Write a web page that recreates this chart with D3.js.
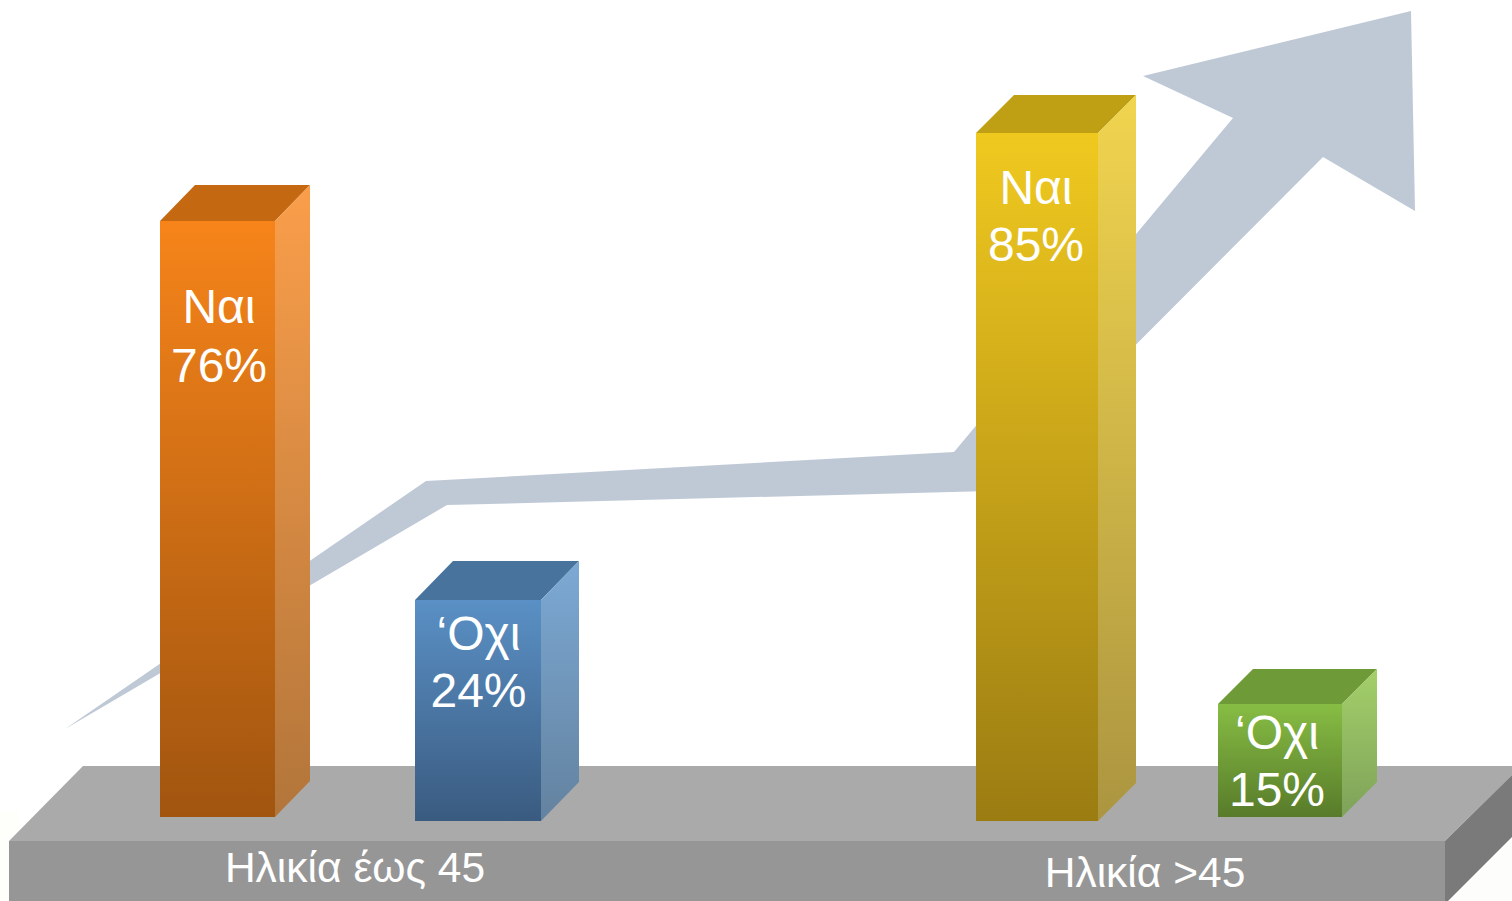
<!DOCTYPE html>
<html><head><meta charset="utf-8">
<script src="https://cdnjs.cloudflare.com/ajax/libs/d3/7.8.5/d3.min.js"></script>
<style>html,body{margin:0;padding:0;background:#fff;overflow:hidden}svg{display:block}text{font-family:"Liberation Sans",Arial,sans-serif;fill:#fff}</style>
</head><body><svg id="c" width="1512" height="901"></svg>
<script>
// Data
const categories = ["yes45","no45","yesOver","noOver"];
const answers = ["Ναι","‘Οχι","Ναι","‘Οχι"];
const values = [76,24,85,15];
const groupLabels = ["Ηλικία έως 45","Ηλικία >45"];

// Styles
const frontTop = ["#f6841a","#5a90c5","#f0c91f","#87bd44"];
const frontBottom = ["#a1550f","#3a5b80","#9b7c12","#587b2a"];
const sideTop = ["#fa9e4a","#7ca9d4","#f1d44e","#a4d06a"];
const sideBottom = ["#b2753a","#63829f","#ab9540","#7ea259"];
const topFace = ["#c56812","#47739d","#bfa015","#6f9a38"];

// Layout (scales: value to height, category to placement)
const h = d3.scaleLinear().domain([0,15,24,76,85]).range([0,113,221,596,688]);
const left = d3.scaleOrdinal(categories,[160,415,976,1218]);
const width = d3.scaleOrdinal(categories,[115,126,122,124]);
const depthX = d3.scaleOrdinal(categories,[35,38,38,35]);
const depthY = d3.scaleOrdinal(categories,[36,39,38,35]);
const base = d3.scaleOrdinal(categories,[817,821,821,817]);
const labelCx = d3.scaleOrdinal(categories,[219,478.5,1036,1277]);
const labelDy = d3.scaleOrdinal(categories,[102,50,71,45]);
const labelGap = d3.scaleOrdinal(categories,[59,57,57,57]);

const svg = d3.select("#c"), defs = svg.append("defs");
const line = d3.line();
const poly = (pts,fill)=>svg.append("path").attr("d",line(pts)+"Z").attr("fill",fill);
const grad = (id,a,b)=>{const g=defs.append("linearGradient").attr("id",id).attr("x1",0).attr("x2",0).attr("y1",0).attr("y2",1);
  g.append("stop").attr("offset",0).attr("stop-color",a);g.append("stop").attr("offset",1).attr("stop-color",b);return `url(#${id})`;};

// Faint off-white corners of the source picture
poly([[0,811],[19,811],[19,901],[0,901]],"#fefefb");
poly([[1440,835],[1512,835],[1512,901],[1440,901]],"#fdfdfb");

// Background arrow
poly([[65,729],[426,481],[954,452],[1233,118],[1143,76],[1411,11],[1415,211],[1323,157],[990,491],[447,505]],"#bfc9d6");

// Platform
poly([[83,766],[1512,766],[1512,775],[1445,841],[9,841]],"#aaaaaa");
poly([[9,841],[1445,841],[1445,901],[9,901]],"#969696");
poly([[1445,841],[1512,775],[1512,837],[1448,901],[1445,901]],"#7a7a7a");
svg.selectAll("text.group").data(groupLabels).join("text").attr("class","group")
  .attr("x",(d,i)=>[355,1145][i]).attr("y",(d,i)=>[882,887][i])
  .attr("text-anchor","middle").attr("font-size",42.5).text(d=>d);

// Bars
categories.forEach((c,i)=>{
  const x=left(c),w=width(c),dx=depthX(c),dy=depthY(c),b=base(c),t=b-h(values[i]);
  poly([[x,t],[x+dx,t-dy],[x+w+dx,t-dy],[x+w,t]],topFace[i]);
  poly([[x+w,t],[x+w+dx,t-dy],[x+w+dx,b-dy],[x+w,b]],grad("s"+i,sideTop[i],sideBottom[i]));
  poly([[x,t],[x+w,t],[x+w,b],[x,b]],grad("f"+i,frontTop[i],frontBottom[i]));
  const cx=labelCx(c), y1=t+labelDy(c);
  svg.append("text").attr("x",cx).attr("y",y1).attr("text-anchor","middle").attr("font-size",48).text(answers[i]);
  svg.append("text").attr("x",cx).attr("y",y1+labelGap(c)).attr("text-anchor","middle").attr("font-size",48).text(values[i]+"%");
});
</script></body></html>
